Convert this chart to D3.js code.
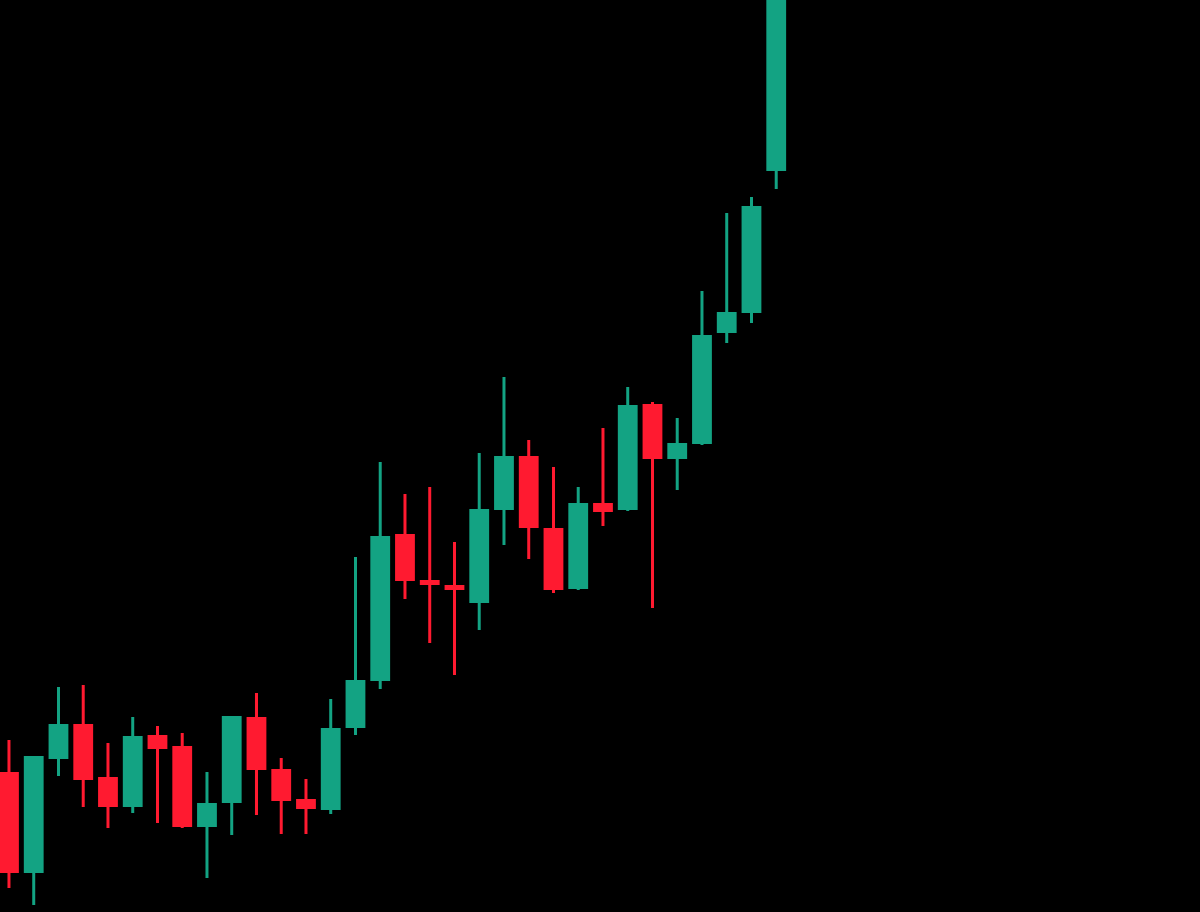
<!DOCTYPE html>
<html>
<head>
<meta charset="utf-8">
<script src="https://cdn.jsdelivr.net/npm/d3@7"></script>
<style>
  html, body { margin: 0; padding: 0; background: #000; }
  svg { display: block; }
</style>
</head>
<body>
<div id="chart"></div>
<script>
// Candle data (prices)
const periods = d3.range(1, 33).map(i => "P" + i);
const opens  = [114.0,103.9,115.3,118.8,113.5,110.5,117.7,116.6,108.5,110.9,119.5,114.3,111.3,110.2,118.4,123.1,137.8,133.2,132.7,130.9,140.2,145.6,138.4,132.3,140.9,140.2,150.8,145.3,146.8,157.9,159.9,174.1];
const highs  = [117.2,115.6,122.5,122.7,116.9,119.5,118.6,117.9,114.0,119.6,121.9,115.4,113.3,121.3,135.5,145.0,141.8,142.5,137.0,145.9,153.5,147.2,144.5,142.5,148.4,152.5,151.0,149.4,162.1,169.9,171.5,200.2];
const lows   = [102.4,100.7,113.6,110.5,108.4,109.9,108.9,108.4,103.4,107.7,109.7,107.8,107.8,109.8,117.7,122.3,131.3,126.9,123.7,128.2,136.7,135.3,131.9,132.2,138.6,140.1,130.4,142.2,146.7,156.9,158.9,172.3];
const closes = [103.9,115.6,118.8,113.2,110.5,117.6,116.3,108.5,110.9,119.6,114.2,111.1,110.3,118.4,123.2,137.6,133.1,132.7,132.2,140.3,145.6,138.4,132.2,140.9,140.0,150.7,145.3,146.9,157.7,160.0,170.6,199.2];

const W = 1200, H = 912;
const UP = "#13a383", DOWN = "#ff1a30";

const candles = periods.map((p, i) => ({
  p, o: opens[i], h: highs[i], l: lows[i], c: closes[i]
}));

const svg = d3.select("#chart").append("svg")
  .attr("width", W).attr("height", H);
svg.append("rect").attr("width", W).attr("height", H).attr("fill", "#000");

const x = d3.scaleBand()
  .domain(periods)
  .range([-3.4, 788.6])
  .paddingInner(0.2)
  .paddingOuter(0.1);

const y = d3.scaleLinear()
  .domain([100, 191.2])
  .range([H, 0]);

const g = svg.append("g");
const cg = g.selectAll("g.candle").data(candles).join("g").attr("class", "candle");

cg.append("line")
  .attr("x1", d => x(d.p) + x.bandwidth() / 2)
  .attr("x2", d => x(d.p) + x.bandwidth() / 2)
  .attr("y1", d => y(d.h))
  .attr("y2", d => y(d.l))
  .attr("stroke", d => d.c >= d.o ? UP : DOWN)
  .attr("stroke-width", 3);

cg.append("rect")
  .attr("x", d => x(d.p))
  .attr("width", x.bandwidth())
  .attr("y", d => y(Math.max(d.o, d.c)))
  .attr("height", d => Math.max(2, Math.abs(y(d.o) - y(d.c))))
  .attr("fill", d => d.c >= d.o ? UP : DOWN);
</script>
</body>
</html>
